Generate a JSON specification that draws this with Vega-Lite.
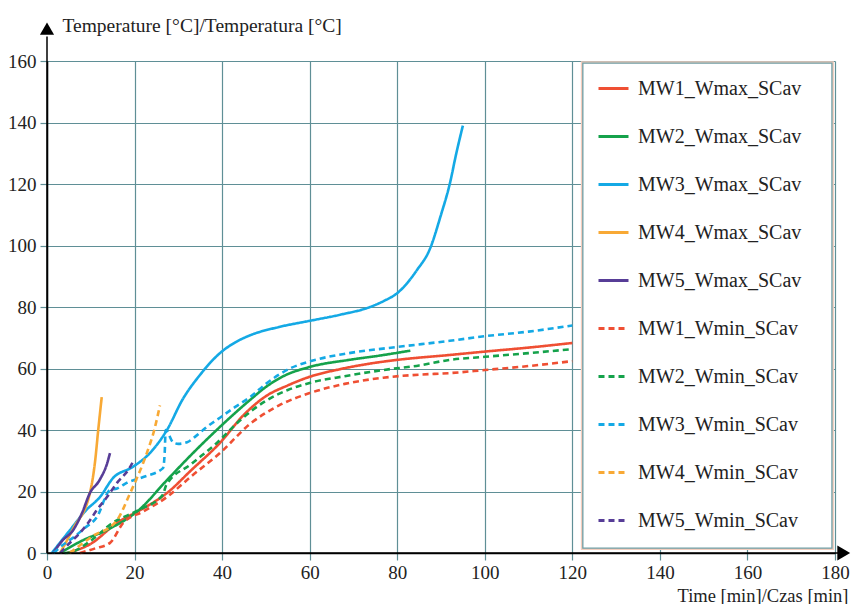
{
  "$schema": "https://vega.github.io/schema/vega-lite/v6.json",
  "width": 788,
  "height": 492,
  "autosize": {"type": "none"},
  "padding": {"left": 47, "top": 61, "right": 18, "bottom": 51},
  "background": "white",
  "config": {"view": {"stroke": null}, "font": "Liberation Serif"},
  "datasets": {
    "curves": [
      {"series": "MW1_Wmax_SCav", "time": 4.6, "temp": 0},
      {"series": "MW1_Wmax_SCav", "time": 10, "temp": 3},
      {"series": "MW1_Wmax_SCav", "time": 16, "temp": 9.8},
      {"series": "MW1_Wmax_SCav", "time": 22, "temp": 14.5},
      {"series": "MW1_Wmax_SCav", "time": 27.4, "temp": 19.5},
      {"series": "MW1_Wmax_SCav", "time": 33, "temp": 27},
      {"series": "MW1_Wmax_SCav", "time": 39.5, "temp": 35.8},
      {"series": "MW1_Wmax_SCav", "time": 45, "temp": 45},
      {"series": "MW1_Wmax_SCav", "time": 50, "temp": 51},
      {"series": "MW1_Wmax_SCav", "time": 55, "temp": 54.5},
      {"series": "MW1_Wmax_SCav", "time": 60, "temp": 57.3},
      {"series": "MW1_Wmax_SCav", "time": 67, "temp": 59.8},
      {"series": "MW1_Wmax_SCav", "time": 73.8, "temp": 61.6},
      {"series": "MW1_Wmax_SCav", "time": 80, "temp": 62.8},
      {"series": "MW1_Wmax_SCav", "time": 92, "temp": 64.4},
      {"series": "MW1_Wmax_SCav", "time": 100, "temp": 65.5},
      {"series": "MW1_Wmax_SCav", "time": 110, "temp": 66.8},
      {"series": "MW1_Wmax_SCav", "time": 120, "temp": 68.3},

      {"series": "MW2_Wmax_SCav", "time": 3, "temp": 0},
      {"series": "MW2_Wmax_SCav", "time": 8, "temp": 4},
      {"series": "MW2_Wmax_SCav", "time": 13.7, "temp": 7.5},
      {"series": "MW2_Wmax_SCav", "time": 21, "temp": 14},
      {"series": "MW2_Wmax_SCav", "time": 27.4, "temp": 23.7},
      {"series": "MW2_Wmax_SCav", "time": 33, "temp": 32},
      {"series": "MW2_Wmax_SCav", "time": 39.5, "temp": 41},
      {"series": "MW2_Wmax_SCav", "time": 46.4, "temp": 49.8},
      {"series": "MW2_Wmax_SCav", "time": 50, "temp": 54},
      {"series": "MW2_Wmax_SCav", "time": 54, "temp": 57.5},
      {"series": "MW2_Wmax_SCav", "time": 60, "temp": 60.5},
      {"series": "MW2_Wmax_SCav", "time": 69, "temp": 62.8},
      {"series": "MW2_Wmax_SCav", "time": 76, "temp": 64.2},
      {"series": "MW2_Wmax_SCav", "time": 83, "temp": 65.8},

      {"series": "MW3_Wmax_SCav", "time": 1.1, "temp": 0},
      {"series": "MW3_Wmax_SCav", "time": 5, "temp": 7},
      {"series": "MW3_Wmax_SCav", "time": 9, "temp": 14},
      {"series": "MW3_Wmax_SCav", "time": 12.1, "temp": 18.2},
      {"series": "MW3_Wmax_SCav", "time": 15.1, "temp": 24.4},
      {"series": "MW3_Wmax_SCav", "time": 19.6, "temp": 28},
      {"series": "MW3_Wmax_SCav", "time": 23.5, "temp": 32.5},
      {"series": "MW3_Wmax_SCav", "time": 27.4, "temp": 40},
      {"series": "MW3_Wmax_SCav", "time": 31, "temp": 50},
      {"series": "MW3_Wmax_SCav", "time": 35, "temp": 58},
      {"series": "MW3_Wmax_SCav", "time": 39.5, "temp": 65},
      {"series": "MW3_Wmax_SCav", "time": 43, "temp": 68.5},
      {"series": "MW3_Wmax_SCav", "time": 46.4, "temp": 70.8},
      {"series": "MW3_Wmax_SCav", "time": 53, "temp": 73.5},
      {"series": "MW3_Wmax_SCav", "time": 60, "temp": 75.5},
      {"series": "MW3_Wmax_SCav", "time": 67, "temp": 77.5},
      {"series": "MW3_Wmax_SCav", "time": 73.8, "temp": 80},
      {"series": "MW3_Wmax_SCav", "time": 77, "temp": 82},
      {"series": "MW3_Wmax_SCav", "time": 80, "temp": 84.5},
      {"series": "MW3_Wmax_SCav", "time": 84.5, "temp": 92},
      {"series": "MW3_Wmax_SCav", "time": 87.5, "temp": 99},
      {"series": "MW3_Wmax_SCav", "time": 90, "temp": 110},
      {"series": "MW3_Wmax_SCav", "time": 92, "temp": 120},
      {"series": "MW3_Wmax_SCav", "time": 93.5, "temp": 130},
      {"series": "MW3_Wmax_SCav", "time": 95, "temp": 139},

      {"series": "MW4_Wmax_SCav", "time": 3, "temp": 0},
      {"series": "MW4_Wmax_SCav", "time": 6, "temp": 8},
      {"series": "MW4_Wmax_SCav", "time": 9.8, "temp": 19.5},
      {"series": "MW4_Wmax_SCav", "time": 11, "temp": 30},
      {"series": "MW4_Wmax_SCav", "time": 11.7, "temp": 40},
      {"series": "MW4_Wmax_SCav", "time": 12.5, "temp": 50.7},

      {"series": "MW5_Wmax_SCav", "time": 1.4, "temp": 0},
      {"series": "MW5_Wmax_SCav", "time": 3.5, "temp": 4},
      {"series": "MW5_Wmax_SCav", "time": 6, "temp": 7.5},
      {"series": "MW5_Wmax_SCav", "time": 8, "temp": 13},
      {"series": "MW5_Wmax_SCav", "time": 9.8, "temp": 19.5},
      {"series": "MW5_Wmax_SCav", "time": 12, "temp": 23.7},
      {"series": "MW5_Wmax_SCav", "time": 13.7, "temp": 29},
      {"series": "MW5_Wmax_SCav", "time": 14.4, "temp": 32.5},

      {"series": "MW1_Wmin_SCav", "time": 7.5, "temp": 0},
      {"series": "MW1_Wmin_SCav", "time": 11, "temp": 1.5},
      {"series": "MW1_Wmin_SCav", "time": 14.4, "temp": 3.3},
      {"series": "MW1_Wmin_SCav", "time": 17.4, "temp": 9.8},
      {"series": "MW1_Wmin_SCav", "time": 22, "temp": 13.5},
      {"series": "MW1_Wmin_SCav", "time": 27.4, "temp": 18.2},
      {"series": "MW1_Wmin_SCav", "time": 33, "temp": 25},
      {"series": "MW1_Wmin_SCav", "time": 39.5, "temp": 32.5},
      {"series": "MW1_Wmin_SCav", "time": 46.4, "temp": 42},
      {"series": "MW1_Wmin_SCav", "time": 53, "temp": 48},
      {"series": "MW1_Wmin_SCav", "time": 60, "temp": 52},
      {"series": "MW1_Wmin_SCav", "time": 68, "temp": 55},
      {"series": "MW1_Wmin_SCav", "time": 76.8, "temp": 57},
      {"series": "MW1_Wmin_SCav", "time": 85, "temp": 58},
      {"series": "MW1_Wmin_SCav", "time": 92, "temp": 58.5},
      {"series": "MW1_Wmin_SCav", "time": 100, "temp": 59.5},
      {"series": "MW1_Wmin_SCav", "time": 110, "temp": 60.8},
      {"series": "MW1_Wmin_SCav", "time": 120, "temp": 62.4},

      {"series": "MW2_Wmin_SCav", "time": 4, "temp": 0},
      {"series": "MW2_Wmin_SCav", "time": 6, "temp": 0.5},
      {"series": "MW2_Wmin_SCav", "time": 10, "temp": 4},
      {"series": "MW2_Wmin_SCav", "time": 15, "temp": 9.8},
      {"series": "MW2_Wmin_SCav", "time": 21, "temp": 14},
      {"series": "MW2_Wmin_SCav", "time": 26.5, "temp": 19},
      {"series": "MW2_Wmin_SCav", "time": 27.2, "temp": 22},
      {"series": "MW2_Wmin_SCav", "time": 33, "temp": 29},
      {"series": "MW2_Wmin_SCav", "time": 38.8, "temp": 35.8},
      {"series": "MW2_Wmin_SCav", "time": 44, "temp": 43},
      {"series": "MW2_Wmin_SCav", "time": 50, "temp": 49.5},
      {"series": "MW2_Wmin_SCav", "time": 55, "temp": 53},
      {"series": "MW2_Wmin_SCav", "time": 60, "temp": 55.3},
      {"series": "MW2_Wmin_SCav", "time": 68, "temp": 57.5},
      {"series": "MW2_Wmin_SCav", "time": 76.8, "temp": 59.5},
      {"series": "MW2_Wmin_SCav", "time": 85, "temp": 61},
      {"series": "MW2_Wmin_SCav", "time": 92, "temp": 62.8},
      {"series": "MW2_Wmin_SCav", "time": 100, "temp": 63.8},
      {"series": "MW2_Wmin_SCav", "time": 110, "temp": 65},
      {"series": "MW2_Wmin_SCav", "time": 120, "temp": 66.3},

      {"series": "MW3_Wmin_SCav", "time": 1.5, "temp": 0},
      {"series": "MW3_Wmin_SCav", "time": 3.5, "temp": 2.5},
      {"series": "MW3_Wmin_SCav", "time": 6, "temp": 5},
      {"series": "MW3_Wmin_SCav", "time": 8.5, "temp": 8},
      {"series": "MW3_Wmin_SCav", "time": 11.4, "temp": 11.7},
      {"series": "MW3_Wmin_SCav", "time": 14.4, "temp": 20.5},
      {"series": "MW3_Wmin_SCav", "time": 16, "temp": 21},
      {"series": "MW3_Wmin_SCav", "time": 18.2, "temp": 22.8},
      {"series": "MW3_Wmin_SCav", "time": 22, "temp": 24.7},
      {"series": "MW3_Wmin_SCav", "time": 26.5, "temp": 27.6},
      {"series": "MW3_Wmin_SCav", "time": 26.9, "temp": 33},
      {"series": "MW3_Wmin_SCav", "time": 27.1, "temp": 40},
      {"series": "MW3_Wmin_SCav", "time": 28.8, "temp": 36},
      {"series": "MW3_Wmin_SCav", "time": 30, "temp": 35.5},
      {"series": "MW3_Wmin_SCav", "time": 32, "temp": 36},
      {"series": "MW3_Wmin_SCav", "time": 34, "temp": 38},
      {"series": "MW3_Wmin_SCav", "time": 36.5, "temp": 41},
      {"series": "MW3_Wmin_SCav", "time": 39.5, "temp": 44},
      {"series": "MW3_Wmin_SCav", "time": 43, "temp": 47.5},
      {"series": "MW3_Wmin_SCav", "time": 46.4, "temp": 50.7},
      {"series": "MW3_Wmin_SCav", "time": 50, "temp": 55},
      {"series": "MW3_Wmin_SCav", "time": 55.5, "temp": 60},
      {"series": "MW3_Wmin_SCav", "time": 60, "temp": 62.3},
      {"series": "MW3_Wmin_SCav", "time": 69, "temp": 65},
      {"series": "MW3_Wmin_SCav", "time": 80, "temp": 67},
      {"series": "MW3_Wmin_SCav", "time": 92, "temp": 69},
      {"series": "MW3_Wmin_SCav", "time": 100, "temp": 70.5},
      {"series": "MW3_Wmin_SCav", "time": 110, "temp": 72},
      {"series": "MW3_Wmin_SCav", "time": 120, "temp": 74},

      {"series": "MW4_Wmin_SCav", "time": 5.2, "temp": 0},
      {"series": "MW4_Wmin_SCav", "time": 8, "temp": 3},
      {"series": "MW4_Wmin_SCav", "time": 11, "temp": 6},
      {"series": "MW4_Wmin_SCav", "time": 14, "temp": 8},
      {"series": "MW4_Wmin_SCav", "time": 16, "temp": 10.7},
      {"series": "MW4_Wmin_SCav", "time": 19, "temp": 19.5},
      {"series": "MW4_Wmin_SCav", "time": 22.8, "temp": 32.5},
      {"series": "MW4_Wmin_SCav", "time": 24.5, "temp": 40},
      {"series": "MW4_Wmin_SCav", "time": 25.8, "temp": 48},

      {"series": "MW5_Wmin_SCav", "time": 3, "temp": 0},
      {"series": "MW5_Wmin_SCav", "time": 5, "temp": 3},
      {"series": "MW5_Wmin_SCav", "time": 7.5, "temp": 6.5},
      {"series": "MW5_Wmin_SCav", "time": 9.5, "temp": 10},
      {"series": "MW5_Wmin_SCav", "time": 11.4, "temp": 14},
      {"series": "MW5_Wmin_SCav", "time": 13.7, "temp": 18.2},
      {"series": "MW5_Wmin_SCav", "time": 16, "temp": 22.8},
      {"series": "MW5_Wmin_SCav", "time": 19, "temp": 28},
      {"series": "MW5_Wmin_SCav", "time": 19.6, "temp": 29.6}
    ]
  },
  "layer": [
    {
      "data": {"name": "curves"},
      "mark": {"type": "line", "strokeWidth": 2.6, "strokeJoin": "round", "strokeCap": "butt", "interpolate": "monotone"},
      "encoding": {
        "x": {
          "field": "time", "type": "quantitative",
          "scale": {"domain": [0, 180], "nice": false},
          "axis": {
            "values": [0, 20, 40, 60, 80, 100, 120, 140, 160, 180],
            "grid": true, "gridColor": "#5f8f96", "gridWidth": 1.2, "gridOpacity": 1,
            "domain": true, "domainColor": "#000000", "domainWidth": 1.5,
            "ticks": true, "tickColor": "#5f8f96", "tickSize": 7, "tickWidth": 1.2,
            "labelFont": "Liberation Serif", "labelFontSize": 19, "labelColor": "#222222", "labelPadding": 3,
            "labelFlush": false,
            "title": "Time [min]/Czas [min]",
            "titleFont": "Liberation Serif", "titleFontSize": 18.5, "titleFontWeight": "normal", "titleColor": "#222222",
            "titleAnchor": "start", "titleAlign": "right", "titleBaseline": "middle",
            "titleX": 801, "titleY": 42
          }
        },
        "y": {
          "field": "temp", "type": "quantitative",
          "scale": {"domain": [0, 160], "nice": false},
          "axis": {
            "values": [0, 20, 40, 60, 80, 100, 120, 140, 160],
            "grid": true, "gridColor": "#5f8f96", "gridWidth": 1.2, "gridOpacity": 1,
            "domain": true, "domainColor": "#000000", "domainWidth": 1.5,
            "ticks": true, "tickColor": "#5f8f96", "tickSize": 7, "tickWidth": 1.2,
            "labelFont": "Liberation Serif", "labelFontSize": 19, "labelColor": "#222222", "labelPadding": 4,
            "labelFlush": false,
            "title": "Temperature [°C]/Temperatura [°C]",
            "titleFont": "Liberation Serif", "titleFontSize": 19.5, "titleFontWeight": "normal", "titleColor": "#222222",
            "titleAngle": 0, "titleAnchor": "start", "titleAlign": "left", "titleBaseline": "middle",
            "titleX": 15, "titleY": -36
          }
        },
        "color": {
          "field": "series", "type": "nominal",
          "scale": {
            "domain": ["MW1_Wmax_SCav", "MW2_Wmax_SCav", "MW3_Wmax_SCav", "MW4_Wmax_SCav", "MW5_Wmax_SCav", "MW1_Wmin_SCav", "MW2_Wmin_SCav", "MW3_Wmin_SCav", "MW4_Wmin_SCav", "MW5_Wmin_SCav"],
            "range": ["#ef4f33", "#15a24b", "#14a9e5", "#f8a935", "#573d97", "#ef4f33", "#15a24b", "#14a9e5", "#f8a935", "#573d97"]
          },
          "legend": {
            "title": null, "orient": "none", "legendX": 536, "legendY": -3,
            "padding": 14,
            "symbolType": "stroke", "symbolSize": 900, "symbolStrokeWidth": 3,
            "labelFont": "Liberation Serif", "labelFontSize": 20, "labelColor": "#222222", "labelOffset": 8,
            "labelLimit": 300, "rowPadding": 21
          }
        },
        "strokeDash": {
          "field": "series", "type": "nominal",
          "scale": {
            "domain": ["MW1_Wmax_SCav", "MW2_Wmax_SCav", "MW3_Wmax_SCav", "MW4_Wmax_SCav", "MW5_Wmax_SCav", "MW1_Wmin_SCav", "MW2_Wmin_SCav", "MW3_Wmin_SCav", "MW4_Wmin_SCav", "MW5_Wmin_SCav"],
            "range": [[1, 0], [1, 0], [1, 0], [1, 0], [1, 0], [6, 4], [6, 4], [6, 4], [6, 4], [6, 4]]
          },
          "legend": {
            "title": null, "orient": "none", "legendX": 536, "legendY": -3,
            "padding": 14,
            "symbolType": "stroke", "symbolSize": 900, "symbolStrokeWidth": 3,
            "labelFont": "Liberation Serif", "labelFontSize": 20, "labelColor": "#222222", "labelOffset": 8,
            "labelLimit": 300, "rowPadding": 21
          }
        }
      }
    },
    {
      "data": {"values": [{}]},
      "mark": {"type": "rect", "fill": "#ffffff", "stroke": "#f3cdbd", "strokeWidth": 4},
      "encoding": {"x": {"datum": 122.4}, "x2": {"datum": 179.3}, "y": {"datum": 1.6}, "y2": {"datum": 159.3}}
    },
    {
      "data": {"values": [{}]},
      "mark": {"type": "rect", "fill": "#ffffff", "stroke": "#6f9fa6", "strokeWidth": 1.3},
      "encoding": {"x": {"datum": 122.4}, "x2": {"datum": 179.3}, "y": {"datum": 1.6}, "y2": {"datum": 159.3}}
    },
    {
      "data": {"values": [{}]},
      "mark": {"type": "rule", "color": "#000000", "strokeWidth": 1.5},
      "encoding": {"x": {"datum": 0}, "y": {"datum": 0}, "y2": {"datum": 168}}
    },
    {
      "data": {"values": [{}]},
      "mark": {"type": "rule", "color": "#000000", "strokeWidth": 1.5},
      "encoding": {"x": {"datum": 0}, "x2": {"datum": 181}, "y": {"datum": 0}}
    },
    {
      "data": {"values": [{}]},
      "mark": {"type": "point", "shape": "triangle-up", "filled": true, "color": "#000000", "opacity": 1, "size": 200, "strokeWidth": 0},
      "encoding": {"x": {"datum": 0}, "y": {"datum": 170.5}}
    },
    {
      "data": {"values": [{}]},
      "mark": {"type": "point", "shape": "triangle-right", "filled": true, "color": "#000000", "opacity": 1, "size": 220, "strokeWidth": 0},
      "encoding": {"x": {"datum": 182}, "y": {"datum": 0}}
    }
  ]
}
